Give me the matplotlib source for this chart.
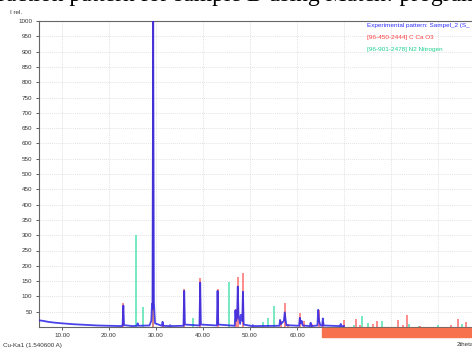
import matplotlib
matplotlib.use("Agg")
import matplotlib.pyplot as plt
from matplotlib.patches import Rectangle

# ---- data ----
# Experimental pattern (2theta, intensity) points
exp_2theta = [5.0, 6.0, 7.0, 8.5, 10.0, 12.5, 15.0, 17.5, 20.0, 22.8,
              22.9, 23.05, 23.2, 25.0, 25.95, 26.1, 26.25, 28.6, 29.0, 29.15,
              29.25, 29.4, 29.55, 29.8, 31.25, 31.4, 31.55, 32.85, 33.0, 33.15,
              35.85, 36.0, 36.15, 39.25, 39.4, 39.55, 42.95, 43.1, 43.25, 46.75,
              46.9, 47.05, 47.25, 47.4, 47.55, 47.9, 48.05, 48.35, 48.5, 48.65,
              50.5, 50.6, 50.7, 56.25, 56.4, 56.6, 57.2, 57.4, 57.6, 57.75,
              60.45, 60.6, 60.8, 61.0, 61.2, 62.75, 62.9, 63.05, 64.35, 64.5,
              64.7, 64.85, 65.0, 65.35, 65.5, 65.65, 69.15, 69.3, 69.45, 70.0]
exp_int = [22, 20, 17, 14, 12, 9, 7, 5, 4, 3,
           10, 70, 6, 3, 4, 12, 4, 5, 20, 75,
           60, 1000, 80, 12, 4, 17, 4, 3, 6, 3,
           4, 118, 8, 5, 145, 8, 5, 118, 8, 4,
           55, 20, 30, 132, 40, 10, 40, 20, 115, 8,
           3, 6, 3, 4, 23, 10, 20, 48, 20, 6,
           4, 30, 12, 20, 5, 3, 14, 3, 5, 56,
           20, 12, 5, 4, 28, 5, 3, 10, 3, 3]

# [96-450-2444] C Ca O3 reference lines
caco3_2theta = [23.05, 29.4, 31.4, 36.0, 39.4, 43.1, 47.1, 47.5, 48.5, 56.6,
                57.4, 58.1, 60.7, 61.4, 63.1, 64.7, 65.6, 69.9, 72.6, 73.3,
                76.1, 77.0, 81.4, 82.5, 83.5, 86.2, 92.8, 94.3, 95.9]
caco3_int = [78, 1000, 10, 123, 160, 123, 60, 164, 175, 20,
             80, 10, 45, 20, 10, 56, 15, 23, 26, 7,
             10, 20, 23, 5, 39, 3, 7, 26, 15]

# [96-901-2478] N2 Nitrogen reference lines
n2_2theta = [25.8, 27.3, 29.35, 37.8, 45.5, 52.8, 53.8, 55.0, 72.2, 73.8,
             75.0, 78.0, 83.9, 86.0, 90.1, 95.2]
n2_int = [300, 66, 875, 30, 148, 17, 30, 70, 8, 36,
          12, 20, 10, 4, 5, 10]

x_ticks = [10, 20, 30, 40, 50, 60, 70, 80, 90]
x_ticklabels = ["10.00", "20.00", "30.00", "40.00", "50.00", "60.00",
                "70.00", "80.00", "90.00"]
y_ticks = list(range(50, 1001, 50))

legend_labels = ["Experimental pattern: Sampel_2 (S_",
                 "[96-450-2444] C Ca O3",
                 "[96-901-2478] N2 Nitrogen"]

# ---- drawing ----
plt.rcParams['font.family'] = ['Liberation Sans', 'DejaVu Sans']
W, H = 472, 349
fig = plt.figure(figsize=(W / 100, H / 100), dpi=100)

x_left, y_bottom, y_top = 38.5, 327, 21
px_per_deg = 4.7
xmin, xmax = 5.0, 100.0
ax = fig.add_axes([x_left / W, (H - y_bottom) / H,
                   (xmax - xmin) * px_per_deg / W, (y_bottom - y_top) / H])
ax.set_xlim(xmin, xmax)
ax.set_ylim(0, 1000)

blue = '#2a22e6'
red = '#ff5a5a'
green = '#3ee0a8'

ax.vlines(n2_2theta, 0, n2_int, colors=green, lw=1.1, alpha=0.9, zorder=2)
ax.vlines(caco3_2theta, 0, caco3_int, colors=red, lw=1.3, alpha=0.75, zorder=3)
ax.plot(exp_2theta, exp_int, color=blue, lw=1.3, alpha=0.85, zorder=4)

ax.set_xticks(x_ticks)
ax.set_xticklabels(x_ticklabels)
ax.set_yticks(y_ticks)
ax.tick_params(axis='both', labelsize=4.5, length=2.5, width=0.6,
               colors='#444444', labelcolor='#333333', pad=2)
ax.grid(True, color='#d8d8d8', lw=0.5, ls=(0, (1.5, 1.5)))
for s in ax.spines.values():
    s.set_color('#666666')
    s.set_linewidth(0.8)

# legend-like texts
for i, (lab, col) in enumerate(zip(legend_labels, ['#3030ff', '#ff4040', '#20d090'])):
    fig.text(367 / W, 1 - (26 + 12 * i) / H, lab, color=col, fontsize=4.6,
             va='center', ha='left')

fig.text(10 / W, 1 - 13 / H, "I rel.", fontsize=4.5, color='#333333', va='center')
fig.text(3 / W, 1 - 345 / H, "Cu-Ka1 (1.540600 A)", fontsize=4.5,
         color='#333333', va='center')
fig.text(457 / W, 1 - 345 / H, "2theta", fontsize=4.5, color='#333333', va='center')

# orange highlight bar
fig.patches.append(Rectangle((322 / W, (H - 337) / H), (W - 322) / W, 9 / H,
                             transform=fig.transFigure, color='#f8714f',
                             zorder=10))

# cropped caption at top
fig.text(-0.005, 1 - 0.5 / H, "raction pattern for sample B using Match! program",
         fontsize=17, family=['Liberation Serif', 'DejaVu Serif'], va='baseline',
         ha='left', color='black')

fig.savefig("out.png", dpi=100)
